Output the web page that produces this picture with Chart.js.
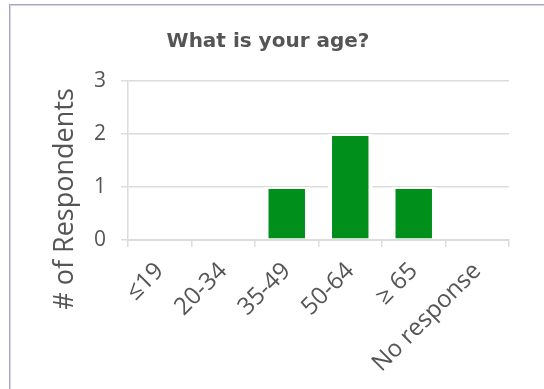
<!DOCTYPE html>
<html>
<head>
<meta charset="utf-8">
<title>What is your age?</title>
<script src="https://cdn.jsdelivr.net/npm/chart.js@4/dist/chart.umd.min.js"></script>
<style>
  html, body { margin: 0; padding: 0; background: #ffffff; }
  #wrap { position: relative; width: 544px; height: 389px; overflow: hidden; }
  #frame {
    position: absolute; left: 9px; top: 4px; width: 700px; height: 600px;
    border-left: 1px solid #a6a6c6; border-top: 1px solid #a6a6c6;
    box-shadow: inset 1px 1px 0 #d4d4e4;
  }
  canvas { position: absolute; left: 0; top: 0; }
</style>
</head>
<body>
<div id="wrap">
  <div id="frame"></div>
  <canvas id="chart" width="544" height="389"></canvas>
</div>
<script>
// Age brackets and how many respondents picked each one
const categories = ['≤19', '20-34', '35-49', '50-64', '≥ 65', 'No response'];
const respondents = [0, 0, 1, 2, 1, 0];
const yTickValues = [0, 1, 2, 3];

const chartTitle = 'What is your age?';
const yAxisTitle = '# of Respondents';

const textColor = '#555555';
const gridColor = '#dcdcdc';
const barColor = '#008f1a';

// Rotated y-axis caption, centred lower than the plot like the survey layout
const yTitlePlugin = {
  id: 'yTitle',
  afterDraw(chart) {
    const ctx = chart.ctx;
    ctx.save();
    ctx.translate(65, 199);
    ctx.rotate(-Math.PI / 2);
    ctx.font = '27px "Open Sans"';
    ctx.fillStyle = textColor;
    ctx.textAlign = 'center';
    ctx.textBaseline = 'middle';
    ctx.fillText(yAxisTitle, 0, 0);
    ctx.restore();
  }
};

new Chart(document.getElementById('chart'), {
  type: 'bar',
  data: {
    labels: categories,
    datasets: [{
      data: respondents,
      backgroundColor: barColor,
      borderColor: '#ffffff',
      borderWidth: { top: 2, left: 4, right: 4, bottom: 1 },
      borderSkipped: false,
      barPercentage: 0.70,
      categoryPercentage: 1.0
    }]
  },
  options: {
    responsive: false,
    animation: false,
    devicePixelRatio: 1,
    layout: { padding: { left: 0, right: 8, top: 0, bottom: 0 } },
    plugins: {
      legend: { display: false },
      tooltip: { enabled: false },
      title: {
        display: true,
        text: chartTitle,
        color: textColor,
        font: { family: '"DejaVu Sans"', size: 20, weight: 'bold' },
        padding: { top: 30, bottom: 27 }
      }
    },
    scales: {
      x: {
        grid: { drawOnChartArea: false, color: gridColor, lineWidth: 1.5, tickLength: 7, offset: true },
        border: { color: gridColor, width: 2, z: 1 },
        ticks: {
          color: textColor,
          font: { family: '"Open Sans"', size: 24 },
          maxRotation: 45, minRotation: 45, padding: 10, autoSkip: false
        },
        afterFit(scale) { scale.height = 149; }
      },
      y: {
        min: 0, max: 3,
        afterBuildTicks(scale) { scale.ticks = yTickValues.map(v => ({ value: v })); },
        grid: { color: gridColor, lineWidth: 1.5, tickLength: 7 },
        border: { color: gridColor, width: 1.5 },
        ticks: {
          color: textColor,
          font: { family: '"Open Sans"', size: 21 },
          padding: 15
        },
        afterFit(scale) { scale.width = 128; }
      },
      // empty right-hand gutter between the plot and the frame edge
      gutter: {
        type: 'linear',
        position: 'right',
        grid: { display: false },
        border: { display: false },
        ticks: { display: false },
        afterFit(scale) { scale.width = 27; }
      }
    }
  },
  plugins: [yTitlePlugin]
});
</script>
</body>
</html>
